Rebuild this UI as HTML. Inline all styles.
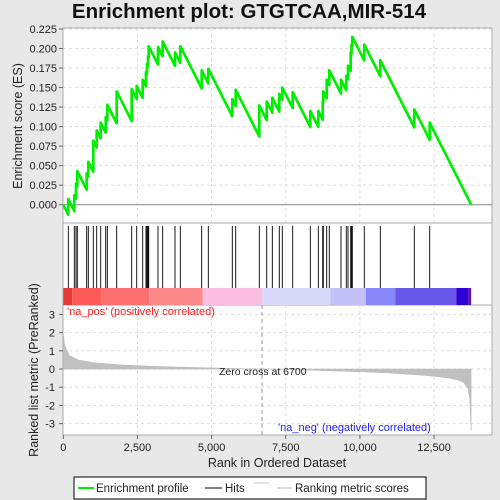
<!DOCTYPE html>
<html><head><meta charset="utf-8"><style>
body{margin:0;background:#e8e8e8;}
svg{display:block;font-family:"Liberation Sans",sans-serif;}
</style></head><body>
<svg id="c" width="500" height="500">
<rect x="0" y="0" width="500" height="500" fill="#e8e8e8"/>
<text x="249" y="18" text-anchor="middle" font-size="20.5" font-weight="bold" fill="#111">Enrichment plot: GTGTCAA,MIR-514</text>
<g id="top"></g>
</svg>
<script>
const hitRanks=[169,371,428,472,789,843,1011,1126,1261,1430,1484,1800,2306,2475,2677,2788,2822,2856,2879,3193,3351,3766,3945,4666,4889,5698,5813,6608,6858,7047,7283,7384,7734,8328,8598,8746,8766,8881,8968,9363,9541,9599,9690,9717,9744,10148,10688,11834,12353];
const esPeaks=[0.007,0.012,0.027,0.043,0.040,0.055,0.082,0.095,0.105,0.112,0.128,0.145,0.148,0.152,0.160,0.170,0.180,0.190,0.203,0.202,0.209,0.195,0.203,0.172,0.174,0.135,0.147,0.127,0.132,0.137,0.142,0.150,0.144,0.120,0.120,0.132,0.145,0.160,0.172,0.160,0.165,0.178,0.195,0.205,0.215,0.205,0.185,0.122,0.105];
const metricRanks=[0,50,200,500,1000,2000,3000,4000,5000,6000,6700,8000,9000,10000,11000,12000,12500,13000,13300,13500,13650,13700,13750];
const metricVals=[1.9,1.3,0.75,0.5,0.35,0.22,0.15,0.1,0.06,0.02,0,-0.05,-0.1,-0.15,-0.22,-0.33,-0.4,-0.5,-0.6,-0.75,-1.1,-1.6,-3.4];
const esTicks=[0,0.025,0.05,0.075,0.1,0.125,0.15,0.175,0.2,0.225];
const esTickLabels=["0.000","0.025","0.050","0.075","0.100","0.125","0.150","0.175","0.200","0.225"];
const rankTicks=[0,2500,5000,7500,10000,12500];
const rankTickLabels=["0","2,500","5,000","7,500","10,000","12,500"];
const metricTicks=[3,2,1,0,-1,-2,-3];
const N=13750, slope=7.5e-5, zeroCross=6700;

const L=63,R=492;
const X=r=>63.3+r*0.02966;
const YE=v=>204.7-v*780.9;
const YM=v=>369-v*18.2;
const svg=document.getElementById('c');
const NS='http://www.w3.org/2000/svg';
function mk(t,a,p){const e=document.createElementNS(NS,t);for(const k in a)e.setAttribute(k,a[k]);(p||svg).appendChild(e);return e;}

let p1=mk('rect',{x:L,y:28,width:R-L,height:195,fill:'#fff',stroke:'#aaa'});


let p2=mk('rect',{x:L,y:223,width:R-L,height:82,fill:'#fff',stroke:'#aaa'});


let p3=mk('rect',{x:L,y:305,width:R-L,height:130,fill:'#fff',stroke:'#aaa'});



esTicks.forEach((v,i)=>{
  const y=YE(v);
  if(i>0){const g=mk('line',{x1:L,x2:R,y1:y,y2:y,stroke:'#ddd','stroke-dasharray':'3,3'});
  
  }
  const tk=mk('line',{x1:L-4,x2:L,y1:y,y2:y,stroke:'#666'});
  
  
  const t=mk('text',{x:L-6,y:y+4,'text-anchor':'end','font-size':11,fill:'#222'});
  t.textContent=esTickLabels[i];
  
  
});
rankTicks.forEach((r,i)=>{
  const x=X(r);
  if(i>0){
  const g=mk('line',{x1:x,x2:x,y1:28,y2:223,stroke:'#ddd','stroke-dasharray':'3,3'});
  
  
  const g2=mk('line',{x1:x,x2:x,y1:305,y2:435,stroke:'#ddd','stroke-dasharray':'3,3'});
  
  }
  const tk=mk('line',{x1:x,x2:x,y1:435,y2:439,stroke:'#666'});
  
  
  const t=mk('text',{x:x,y:451,'text-anchor':'middle','font-size':11,fill:'#222'});
  t.textContent=rankTickLabels[i];
  
  
});
metricTicks.forEach(v=>{
  const y=YM(v);
  const g=mk('line',{x1:L,x2:R,y1:y,y2:y,stroke:'#ddd','stroke-dasharray':'3,3'});
  
  
  const tk=mk('line',{x1:L-4,x2:L,y1:y,y2:y,stroke:'#666'});
  
  
  const t=mk('text',{x:L-8,y:y+4,'text-anchor':'end','font-size':11,fill:'#222'});
  t.textContent=String(v);
  
  
});
const z=mk('line',{x1:L,x2:R,y1:YE(0),y2:YE(0),stroke:'#888'});



let pts=[[X(0),YE(0)]],prevR=0,prevV=0;
hitRanks.forEach((r,i)=>{
  const tr=prevV-slope*(r-prevR);
  pts.push([X(r),YE(tr)]);pts.push([X(r),YE(esPeaks[i])]);
  prevR=r;prevV=esPeaks[i];
});
pts.push([X(N),YE(prevV-slope*(N-prevR))]);
const es=mk('polyline',{points:pts.map(p=>p.join(',')).join(' '),fill:'none',stroke:'#00ee00','stroke-width':2.7,'stroke-linejoin':'round'});



hitRanks.forEach(r=>{
  const h=mk('line',{x1:X(r),x2:X(r),y1:226,y2:288,stroke:'#000','stroke-width':0.9});
  
  
});

const bands=[[0,300,'#e83838'],[300,1300,'#ff5a5a'],[1300,2900,'#ff7070'],[2900,4700,'#fd8a8a'],[4700,6700,'#fbbde0'],[6700,9000,'#d8d8fb'],[9000,10200,'#c4c0f8'],[10200,11200,'#8888fa'],[11200,13250,'#6a58ea'],[13250,13650,'#2a00d6'],[13650,13750,'#5a10b0']];
bands.forEach(b=>{
  const r=mk('rect',{x:X(b[0]),y:288,width:X(b[1])-X(b[0]),height:17,fill:b[2]});
  
  
});

let mp=[[X(0),YM(0)]];
metricRanks.forEach((r,i)=>mp.push([X(r),YM(metricVals[i])]));
mp.push([X(N),YM(0)]);
const ma=mk('polygon',{points:mp.map(p=>p.join(',')).join(' '),fill:'#c0c0c0',stroke:'#b8b8b8','stroke-width':0.5});


const zc=mk('line',{x1:X(zeroCross),x2:X(zeroCross),y1:305,y2:435,stroke:'#999','stroke-dasharray':'4,3'});


</script>
<div style="position:absolute;left:0;top:0;width:500px;height:500px;pointer-events:none;">
<svg width="500" height="500" style="position:absolute;left:0;top:0;font-family:'Liberation Sans',sans-serif;">
<text x="67" y="315" font-size="11" fill="#ff2020">'na_pos' (positively correlated)</text>
<text x="219" y="375" font-size="10.5" fill="#222">Zero cross at 6700</text>
<text x="278" y="431" font-size="11" fill="#2020ff">'na_neg' (negatively correlated)</text>
<text transform="translate(22,126) rotate(-90)" text-anchor="middle" font-size="12.5" fill="#222">Enrichment score (ES)</text>
<text transform="translate(38,370) rotate(-90)" text-anchor="middle" font-size="12.5" fill="#222">Ranked list metric (PreRanked)</text>
<text x="277" y="467" text-anchor="middle" font-size="12.5" fill="#222">Rank in Ordered Dataset</text>
<g>
<rect x="74" y="477" width="352" height="22" fill="#fff" stroke="#000"/>
<line x1="78" y1="488" x2="94" y2="488" stroke="#00ee00" stroke-width="2"/>
<text x="96" y="492" font-size="11.5" fill="#222">Enrichment profile</text>
<line x1="205" y1="488" x2="222" y2="488" stroke="#000"/>
<text x="225" y="492" font-size="11.5" fill="#222">Hits</text>
<line x1="254" y1="483" x2="269" y2="483" stroke="#ccc"/>
<line x1="277" y1="488" x2="292" y2="488" stroke="#bbb"/>
<text x="295" y="492" font-size="11.5" fill="#222">Ranking metric scores</text>
</g>
</svg></div>
</body></html>
